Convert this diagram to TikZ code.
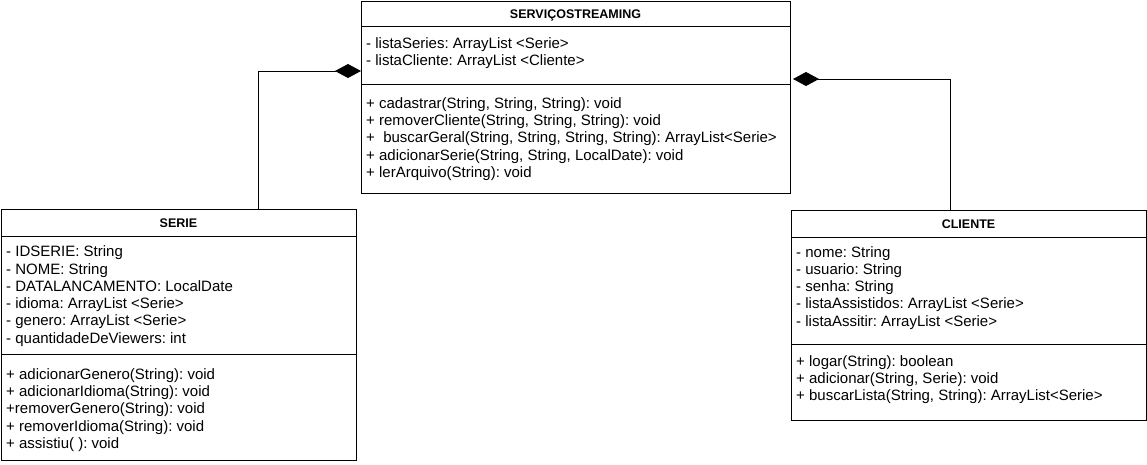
\documentclass[tikz,border=0pt]{standalone}
\usepackage{fontspec}
\setmainfont{Liberation Sans}
\usetikzlibrary{arrows.meta,calc}
\begin{document}
\frenchspacing
\begin{tikzpicture}[x=1pt,y=-1pt,
  box/.style={draw=black,line width=1pt,anchor=north west,inner sep=0pt,fill=white},
  sep/.style={draw=black,line width=1pt},
  head/.style={font=\fontsize{12.5}{14}\selectfont\bfseries,inner sep=0pt,anchor=base},
  txt/.style={font=\fontsize{15}{17}\selectfont,inner sep=0pt,anchor=base west},
  comp/.style={draw=black,line width=1pt,-{Diamond[length=26pt,width=14pt,fill=black]}}]
\useasboundingbox (0,0) rectangle (1147,464);
\fill[white] (0,0) rectangle (1147,464);
% SERVICOSTREAMING
\node[box,minimum width=429,minimum height=192] (serv) at (361,1) {};
\draw[sep] ($(serv.north west)+(0,25)$) -- ($(serv.north east)+(0,25)$);
\draw[sep] ($(serv.north west)+(0,83)$) -- ($(serv.north east)+(0,83)$);
\node[head] (servh) at (575.5,18.5) {SERVIÇOSTREAMING};
\node[txt] (sa1) at (366,48) {- listaSeries: ArrayList <Serie>};
\node[txt] (sa2) at (366,65.3) {- listaCliente: ArrayList <Cliente>};
\node[txt] (sm1) at (366,108.3) {+ cadastrar(String, String, String): void};
\node[txt] (sm2) at (366,125.6) {+ removerCliente(String, String, String): void};
\node[txt] (sm3) at (366,142.9) {+\ \ buscarGeral(String, String, String, String): ArrayList<Serie>};
\node[txt] (sm4) at (366,160.1) {+ adicionarSerie(String, String, LocalDate): void};
\node[txt] (sm5) at (366,177.4) {+ lerArquivo(String): void};
% SERIE
\node[box,minimum width=355,minimum height=251] (serie) at (1,209) {};
\draw[sep] ($(serie.north west)+(0,27)$) -- ($(serie.north east)+(0,27)$);
\draw[sep] ($(serie.north west)+(0,145)$) -- ($(serie.north east)+(0,145)$);
\node[head] (serieh) at (178.5,227.5) {SERIE};
\node[txt] (ea1) at (6,256.7) {- IDSERIE: String};
\node[txt] (ea2) at (6,274) {- NOME: String};
\node[txt] (ea3) at (6,291.3) {- DATALANCAMENTO: LocalDate};
\node[txt] (ea4) at (6,308.6) {- idioma: ArrayList <Serie>};
\node[txt] (ea5) at (6,325.9) {- genero: ArrayList <Serie>};
\node[txt] (ea6) at (6,343.2) {- quantidadeDeViewers: int};
\node[txt] (em1) at (6,379.3) {+ adicionarGenero(String): void};
\node[txt] (em2) at (6,396.6) {+ adicionarIdioma(String): void};
\node[txt] (em3) at (6,413.9) {+removerGenero(String): void};
\node[txt] (em4) at (6,431.2) {+ removerIdioma(String): void};
\node[txt] (em5) at (6,448.5) {+ assistiu( ): void};
% CLIENTE
\node[box,minimum width=355,minimum height=210] (cli) at (791,210) {};
\draw[sep] ($(cli.north west)+(0,27)$) -- ($(cli.north east)+(0,27)$);
\draw[sep] ($(cli.north west)+(0,134)$) -- ($(cli.north east)+(0,134)$);
\node[head] (clih) at (968.5,228.5) {CLIENTE};
\node[txt] (ca1) at (796,257) {- nome: String};
\node[txt] (ca2) at (796,274.3) {- usuario: String};
\node[txt] (ca3) at (796,291.6) {- senha: String};
\node[txt] (ca4) at (796,308.9) {- listaAssistidos: ArrayList <Serie>};
\node[txt] (ca5) at (796,326.2) {- listaAssitir: ArrayList <Serie>};
\node[txt] (cm1) at (796,366.3) {+ logar(String): boolean};
\node[txt] (cm2) at (796,383.6) {+ adicionar(String, Serie): void};
\node[txt] (cm3) at (796,400.9) {+ buscarLista(String, String): ArrayList<Serie>};
% connectors
\coordinate (l0) at ($(serie.north west)+(257,0)$);
\coordinate (l1) at ($(serv.north west)+(0,70)$);
\draw[comp] (l0) |- (l1);
\coordinate (r0) at ($(cli.north west)+(159,0)$);
\coordinate (r1) at ($(serv.north east)+(2,78)$);
\draw[comp] (r0) |- (r1);
\end{tikzpicture}
\end{document}
